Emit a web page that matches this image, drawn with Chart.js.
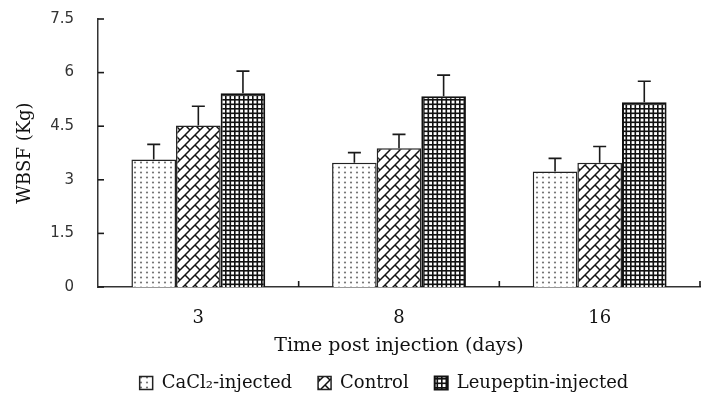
<!DOCTYPE html>
<html>
<head>
<meta charset="utf-8">
<script src="https://cdn.jsdelivr.net/npm/chart.js@4/dist/chart.umd.min.js"></script>
<style>
  html, body { margin: 0; padding: 0; background: #fff; }
  #wrap { width: 701px; height: 394px; }
</style>
</head>
<body>
<div id="wrap"><canvas id="c" width="701" height="394"></canvas></div>
<script>
// ---- data ----
const categories = ['3', '8', '16'];
const seriesNames = ['CaCl\u2082-injected', 'Control', 'Leupeptin-injected'];
const cacl2Values = [3.57, 3.48, 3.23];
const cacl2Errors = [0.42, 0.28, 0.37];
const controlValues = [4.52, 3.88, 3.48];
const controlErrors = [0.54, 0.39, 0.45];
const leupeptinValues = [5.42, 5.34, 5.17];
const leupeptinErrors = [0.62, 0.59, 0.59];
const yTickValues = [0, 1.5, 3, 4.5, 6, 7.5];

const SERIF = 'DejaVu Serif';

// ---- patterns ----
function makeTile(w, h, draw) {
  const c = document.createElement('canvas');
  c.width = w; c.height = h;
  const g = c.getContext('2d');
  g.fillStyle = '#fff';
  g.fillRect(0, 0, w, h);
  draw(g, w, h);
  return document.createElement('canvas').getContext('2d').createPattern(c, 'repeat');
}
const dotPattern = makeTile(6, 5, (g) => {
  g.fillStyle = '#777';
  g.beginPath(); g.arc(3, 2.5, 1.1, 0, Math.PI * 2); g.fill();
});
const brickPattern = makeTile(10, 10, (g, T) => {
  g.strokeStyle = '#111';
  g.lineWidth = 1.5;
  for (const dx of [-T, 0, T]) {
    for (const dy of [-T, 0, T]) {
      g.beginPath();
      g.moveTo(0 + dx, T + dy); g.lineTo(T + dx, 0 + dy);
      g.moveTo(T / 2 + dx, T / 2 + dy); g.lineTo(T + dx, T + dy);
      g.stroke();
    }
  }
});
const gridPattern = makeTile(9, 9, (g) => {
  g.fillStyle = '#111';
  for (const p of [0, 4.5]) {
    g.fillRect(p, 0, 1.6, 9);
    g.fillRect(0, p, 9, 1.6);
  }
});

const errorSets = [cacl2Errors, controlErrors, leupeptinErrors];
const valueSets = [cacl2Values, controlValues, leupeptinValues];

const decorPlugin = {
  id: 'decor',
  afterLayout(chart) {
    const lg = chart.legend;
    if (lg) {
      lg.left += 34; lg.right += 34;
      const pad = lg.options.labels.padding;
      const fs = lg.options.labels.font.size;
      lg.top = 383 - (pad + fs / 2);
      lg.bottom = chart.height;
    }
  },
  afterDatasetsDraw(chart) {
    const ctx = chart.ctx;
    const y = chart.scales.y, x = chart.scales.x;
    const area = chart.chartArea;
    ctx.save();
    ctx.strokeStyle = '#1a1a1a';
    ctx.lineWidth = 1.6;
    // error bars (upper only)
    chart.data.datasets.forEach((ds, i) => {
      const meta = chart.getDatasetMeta(i);
      meta.data.forEach((bar, j) => {
        const top = y.getPixelForValue(valueSets[i][j] + errorSets[i][j]);
        ctx.beginPath();
        ctx.moveTo(bar.x, bar.y);
        ctx.lineTo(bar.x, top);
        ctx.moveTo(bar.x - 6.5, top);
        ctx.lineTo(bar.x + 6.5, top);
        ctx.stroke();
      });
    });
    // y ticks inside
    yTickValues.forEach(v => {
      const py = y.getPixelForValue(v);
      ctx.beginPath();
      ctx.moveTo(area.left, py);
      ctx.lineTo(area.left + 6, py);
      ctx.stroke();
    });
    // x category boundary ticks inside
    for (let i = 0; i < categories.length - 1; i++) {
      const px = (x.getPixelForTick(i) + x.getPixelForTick(i + 1)) / 2;
      ctx.beginPath();
      ctx.moveTo(px, area.bottom);
      ctx.lineTo(px, area.bottom - 6);
      ctx.stroke();
    }
    ctx.beginPath();
    ctx.moveTo(area.right, area.bottom);
    ctx.lineTo(area.right, area.bottom - 6);
    ctx.stroke();
    ctx.restore();
  }
};

new Chart(document.getElementById('c'), {
  type: 'bar',
  data: {
    labels: categories,
    datasets: [
      { label: seriesNames[0], data: cacl2Values, backgroundColor: dotPattern, borderColor: '#222', borderWidth: 1.5 },
      { label: seriesNames[1], data: controlValues, backgroundColor: brickPattern, borderColor: '#222', borderWidth: 1.5 },
      { label: seriesNames[2], data: leupeptinValues, backgroundColor: gridPattern, borderColor: '#111', borderWidth: 2 }
    ]
  },
  options: {
    responsive: false,
    animation: false,
    devicePixelRatio: 1,
    layout: { padding: { top: 19, right: 1, left: 0, bottom: 0 } },
    datasets: { bar: { categoryPercentage: 0.667, barPercentage: 1.0 } },
    plugins: {
      tooltip: { enabled: false },
      legend: {
        position: 'bottom',
        maxHeight: 37,
        labels: {
          font: { family: SERIF, size: 18 },
          color: '#111',
          boxWidth: 13,
          boxHeight: 13,
          padding: 26
        }
      }
    },
    scales: {
      x: {
        grid: { display: false, drawTicks: false },
        border: { display: true, color: '#333', width: 1.5 },
        afterFit(s) { s.height = 70; },
        ticks: { font: { family: SERIF, size: 18 }, color: '#111', padding: 21 },
        title: {
          display: true,
          text: 'Time post injection (days)',
          font: { family: SERIF, size: 19 },
          color: '#111',
          padding: { top: 0, bottom: 0 }
        }
      },
      y: {
        min: 0,
        max: 7.5,
        grid: { display: false, drawTicks: false },
        border: { display: true, color: '#333', width: 1.5 },
        afterFit(s) { s.width = 98; s.paddingTop = 0; s.paddingBottom = 0; },
        afterBuildTicks(s) { s.ticks = yTickValues.map(v => ({ value: v })); },
        ticks: { font: { family: 'DejaVu Sans', size: 15 }, color: '#333', padding: 24 },
        title: {
          display: true,
          text: 'WBSF (Kg)',
          font: { family: SERIF, size: 18 },
          color: '#111',
          padding: { top: 15, bottom: 0 }
        }
      }
    }
  },
  plugins: [decorPlugin]
});
</script>
</body>
</html>
